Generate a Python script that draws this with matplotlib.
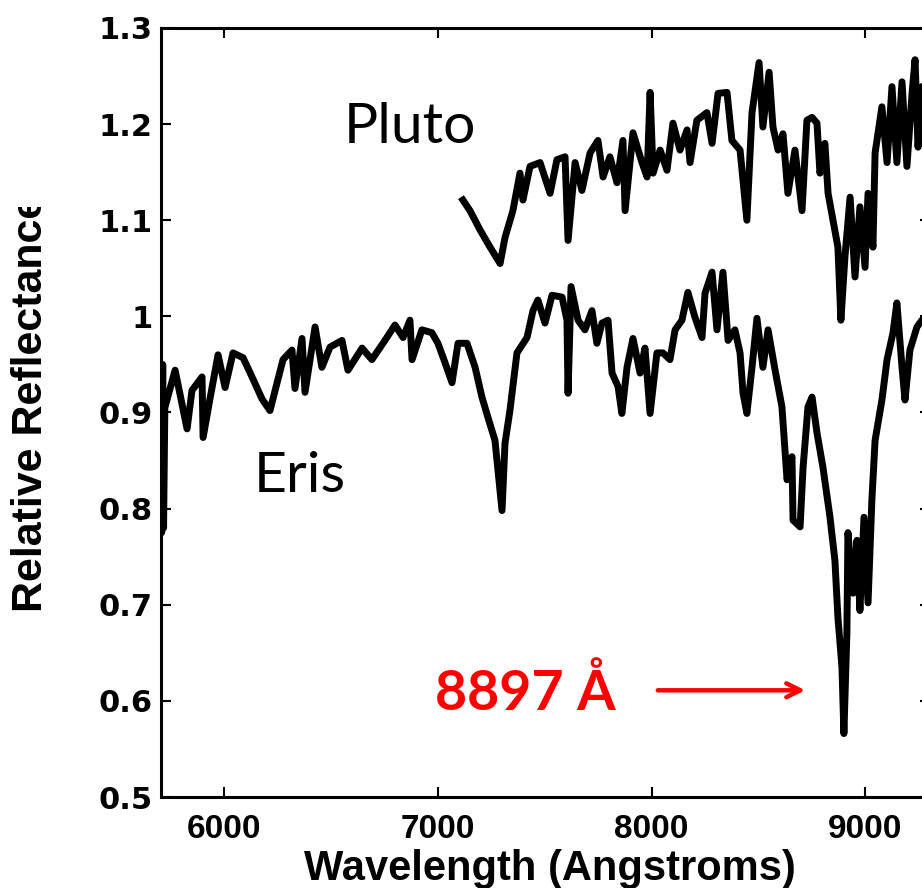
import matplotlib
matplotlib.use("Agg")
import matplotlib.pyplot as plt
from matplotlib.ticker import FuncFormatter
from matplotlib.transforms import Bbox

# ---------------- data ----------------
eris_wl = [5705, 5707, 5712, 5716, 5722, 5770, 5826, 5849, 5896, 5901, 5933, 5971,
           6004, 6041, 6088, 6130, 6177, 6214, 6238, 6275, 6317, 6331, 6364, 6378,
           6425, 6457, 6495, 6551, 6579, 6645, 6691, 6752, 6799, 6837, 6869, 6879,
           6925, 6972, 7000, 7033, 7066, 7094, 7136, 7174, 7206, 7234, 7267, 7300,
           7314, 7337, 7370, 7417, 7445, 7468, 7501, 7534, 7581, 7604, 7609, 7623,
           7656, 7688, 7721, 7744, 7768, 7796, 7815, 7843, 7861, 7885, 7913, 7946,
           7969, 7993, 8025, 8053, 8086, 8110, 8142, 8170, 8203, 8236, 8250, 8283,
           8306, 8334, 8358, 8390, 8414, 8428, 8446, 8470, 8493, 8521, 8545, 8578,
           8610, 8634, 8657, 8662, 8695, 8709, 8732, 8751, 8774, 8802, 8835, 8858,
           8872, 8891, 8900, 8914, 8919, 8943, 8961, 8975, 8994, 9013, 9031, 9046,
           9078, 9102, 9130, 9148, 9172, 9186, 9209, 9242, 9265, 9290]
eris_refl = [0.945, 0.775, 0.950, 0.780, 0.905, 0.944, 0.883, 0.923, 0.937, 0.874, 0.914, 0.960,
             0.926, 0.962, 0.957, 0.937, 0.914, 0.902, 0.923, 0.955, 0.965, 0.925, 0.977, 0.921,
             0.989, 0.947, 0.968, 0.975, 0.944, 0.967, 0.955, 0.975, 0.991, 0.978, 0.996, 0.955,
             0.986, 0.983, 0.972, 0.952, 0.931, 0.972, 0.972, 0.947, 0.916, 0.895, 0.871, 0.798,
             0.868, 0.902, 0.962, 0.978, 1.006, 1.017, 0.993, 1.022, 1.020, 0.996, 0.920, 1.031,
             0.996, 0.986, 1.006, 0.972, 0.993, 0.996, 0.941, 0.927, 0.899, 0.947, 0.977, 0.941,
             0.967, 0.899, 0.962, 0.962, 0.955, 0.986, 0.996, 1.025, 0.999, 0.978, 1.024, 1.046,
             0.986, 1.046, 0.975, 0.986, 0.962, 0.920, 0.899, 0.947, 0.998, 0.947, 0.986, 0.944,
             0.906, 0.830, 0.854, 0.788, 0.781, 0.843, 0.906, 0.916, 0.879, 0.843, 0.791, 0.746,
             0.687, 0.635, 0.566, 0.670, 0.775, 0.712, 0.767, 0.694, 0.791, 0.702, 0.809, 0.871,
             0.913, 0.955, 0.983, 1.014, 0.947, 0.913, 0.965, 0.989, 0.996, 1.000]

pluto_wl = [7117, 7150, 7197, 7244, 7291, 7314, 7351, 7384, 7398, 7431, 7478, 7525,
            7557, 7595, 7609, 7642, 7674, 7712, 7749, 7773, 7805, 7838, 7866, 7876,
            7913, 7955, 7979, 7993, 8007, 8040, 8072, 8100, 8133, 8166, 8180, 8212,
            8259, 8283, 8311, 8353, 8376, 8414, 8446, 8470, 8503, 8521, 8550, 8568,
            8592, 8615, 8638, 8671, 8704, 8727, 8751, 8774, 8788, 8811, 8826, 8849,
            8872, 8886, 8905, 8929, 8952, 8975, 8999, 9013, 9036, 9046, 9078, 9102,
            9125, 9148, 9172, 9195, 9219, 9233, 9247, 9265, 9290]
pluto_refl = [1.121, 1.110, 1.090, 1.072, 1.055, 1.082, 1.110, 1.149, 1.121, 1.156, 1.160, 1.128,
              1.163, 1.166, 1.079, 1.160, 1.131, 1.170, 1.183, 1.145, 1.166, 1.139, 1.183, 1.110,
              1.191, 1.160, 1.145, 1.233, 1.149, 1.173, 1.152, 1.201, 1.173, 1.194, 1.160, 1.204,
              1.212, 1.180, 1.232, 1.233, 1.183, 1.173, 1.100, 1.212, 1.264, 1.197, 1.254, 1.197,
              1.173, 1.190, 1.128, 1.173, 1.110, 1.204, 1.207, 1.201, 1.149, 1.180, 1.128, 1.100,
              1.072, 0.996, 1.062, 1.124, 1.041, 1.114, 1.051, 1.128, 1.072, 1.170, 1.218, 1.160,
              1.239, 1.160, 1.244, 1.156, 1.232, 1.267, 1.176, 1.239, 1.200]

x_ticks = [6000, 7000, 8000, 9000]
y_ticks = [0.5, 0.6, 0.7, 0.8, 0.9, 1.0, 1.1, 1.2, 1.3]
band_label = "8897 Å"
band_wl = 8897

# ---------------- figure ----------------
W, H = 922, 888
fig = plt.figure(figsize=(W / 100, H / 100), dpi=100)
ax = fig.add_axes([161 / W, 1 - 797 / H, (930 - 161) / W, (797 - 28) / H])

ax.plot(eris_wl, eris_refl, color="black", lw=5, solid_joinstyle="round")
ax.plot(pluto_wl, pluto_refl, color="black", lw=5, solid_joinstyle="round")

ax.set_xlim(5704, 9303)
ax.set_ylim(0.5, 1.3)
ax.set_xticks(x_ticks)
ax.set_yticks(y_ticks)
ax.yaxis.set_major_formatter(FuncFormatter(lambda v, p: "%g" % v))

for lab in ax.get_xticklabels():
    lab.set_fontfamily("Liberation Sans")
    lab.set_fontweight("bold")
    lab.set_fontsize(24)
for lab in ax.get_yticklabels():
    lab.set_fontfamily("DejaVu Sans")
    lab.set_fontweight("bold")
    lab.set_fontsize(22)
ax.tick_params(direction="in", length=7, width=1.5, top=True, right=True)
ax.tick_params(axis="x", pad=12)
ax.tick_params(axis="y", pad=6)
for sp in ax.spines.values():
    sp.set_linewidth(2.2)

# x label placed explicitly (slightly cut at the bottom in the reference)
fig.text(550 / W, 1 - 869 / H, "Wavelength (Angstroms)", ha="center", va="center",
         fontfamily="Liberation Sans", fontweight="bold", fontsize=30)

# y label (cut off at the top in the reference)
yl = fig.text(31 / W, 1 - 612 / H, "Relative Reflectance", rotation=90,
              ha="center", va="bottom", fontfamily="Liberation Sans",
              fontweight="bold", fontsize=31)
yl.set_clip_box(Bbox.from_extents(0, 0, W, H - 207))
yl.set_clip_on(True)

ax.text(6869, 1.197, "Pluto", fontfamily="Lato", fontsize=41,
        ha="center", va="center")
ax.text(6355, 0.833, "Eris", fontfamily="Lato", fontsize=41,
        ha="center", va="center")

ax.text(7408, 0.609, band_label, color="red", fontfamily="Lato",
        fontweight="bold", fontsize=40, ha="center", va="center")
ax.annotate("", xy=(8732, 0.611), xytext=(8016, 0.611),
            arrowprops=dict(arrowstyle="->,head_length=1.0,head_width=0.5",
                            color="red", lw=3.2))

fig.savefig("out.png", dpi=100)
